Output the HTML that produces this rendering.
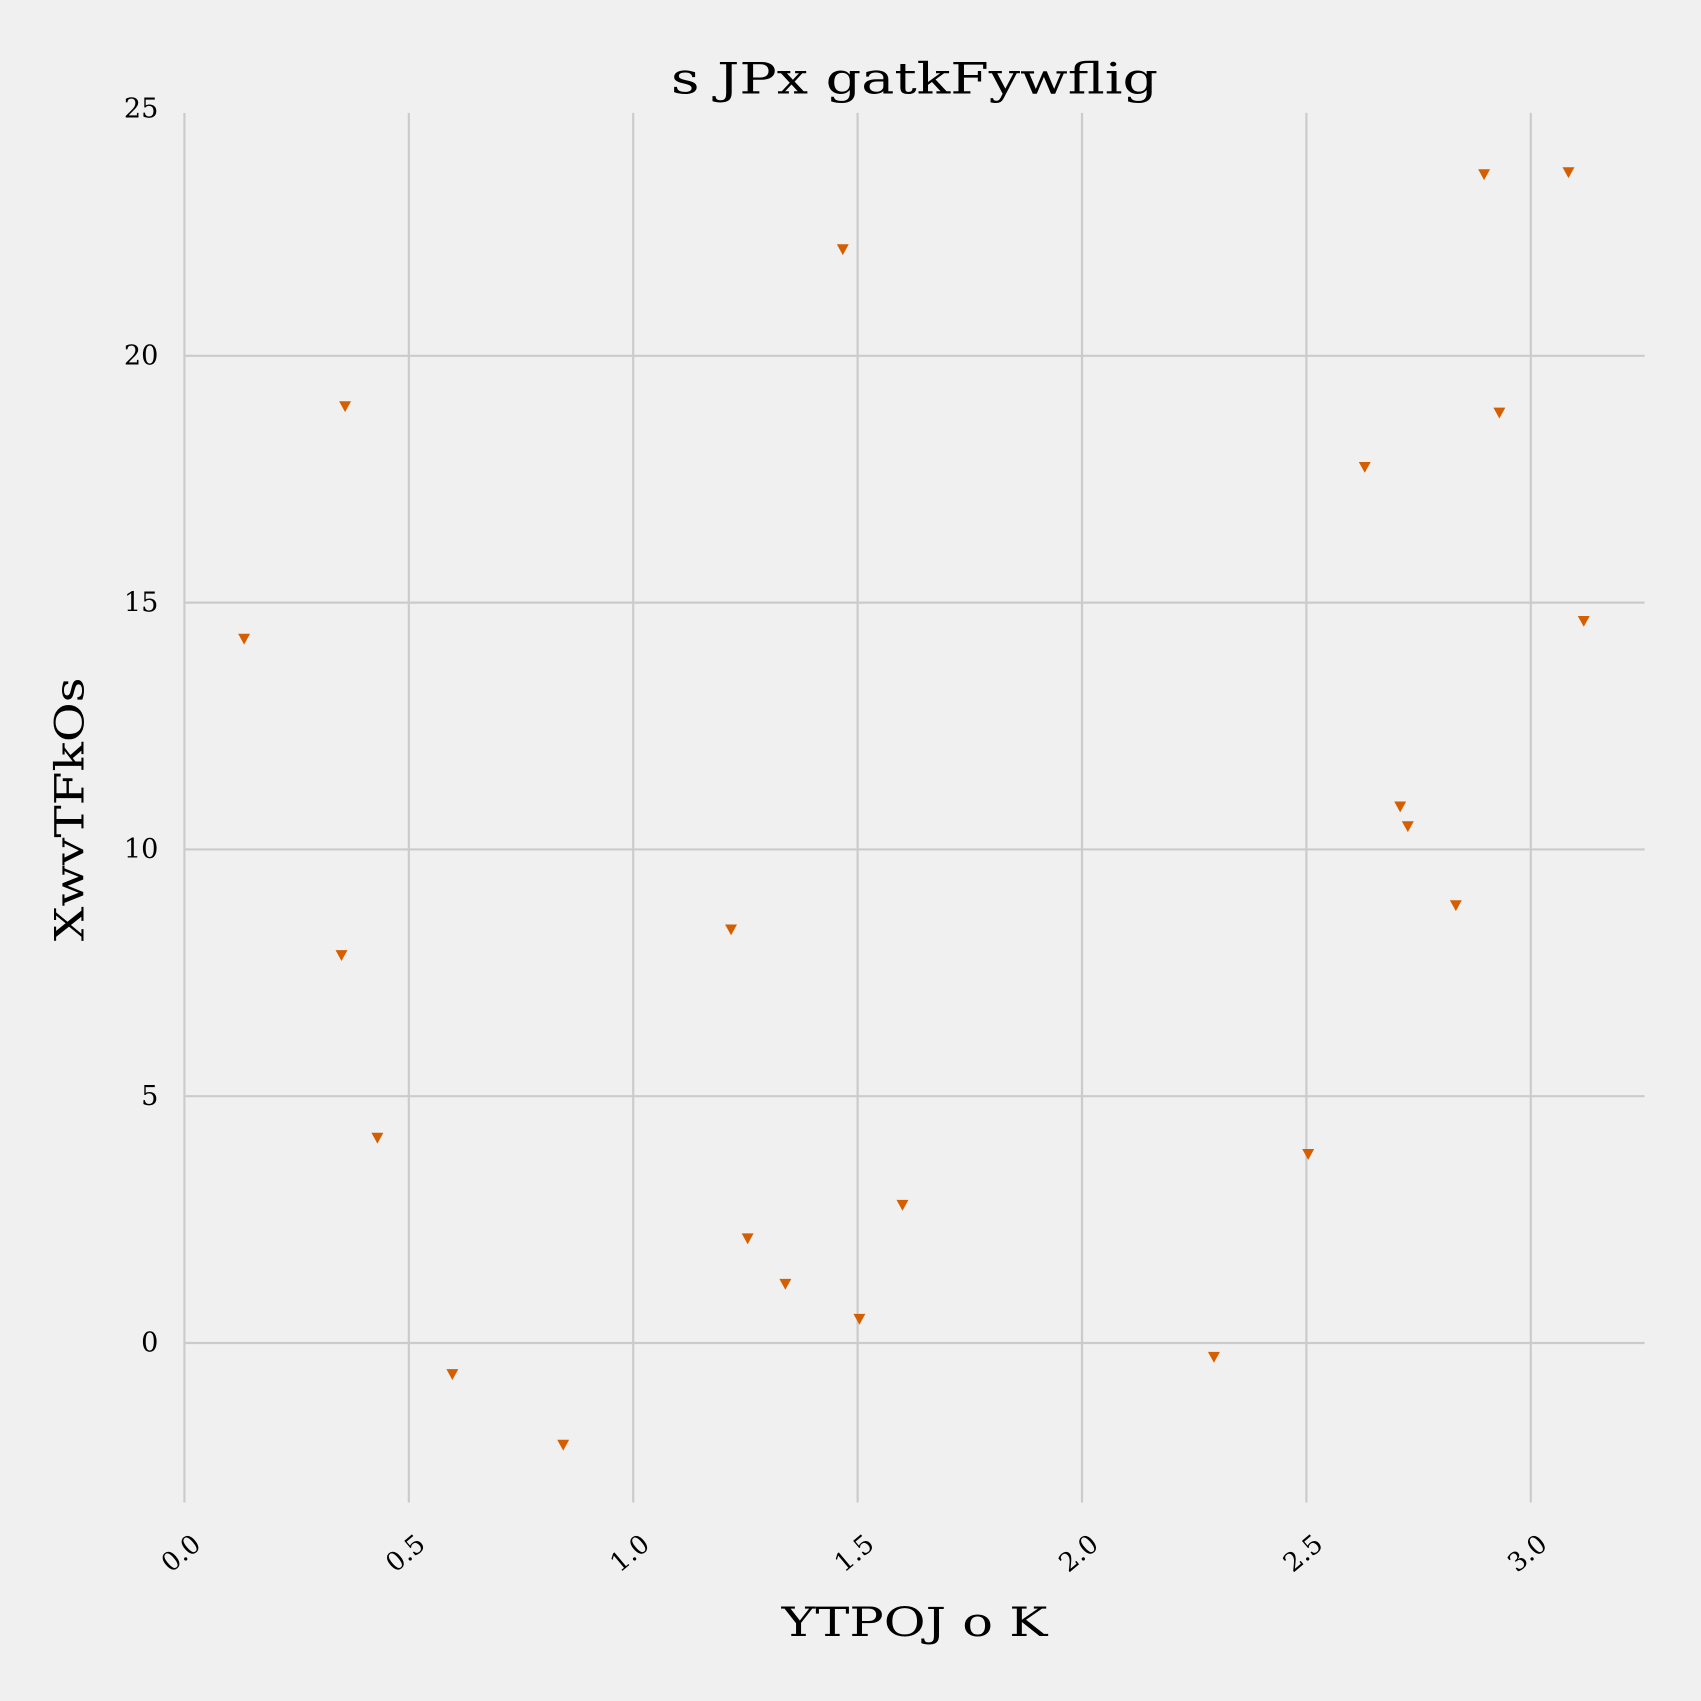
<!DOCTYPE html>
<html><head><meta charset="utf-8"><style>html,body{margin:0;padding:0;background:#f0f0f0}svg{display:block}</style></head>
<body>
<svg id="chart" width="1701" height="1701" viewBox="0 0 1568 1568" xmlns="http://www.w3.org/2000/svg" font-family="'DejaVu Serif', 'Liberation Serif', serif">
<rect width="1568" height="1568" fill="#f0f0f0"/>
<g id="grid"></g><g id="ticks"></g><g id="marks"></g>
<text x="843" y="86" font-size="40" text-anchor="middle" textLength="449" lengthAdjust="spacingAndGlyphs" fill="#000">s JPx gatkFywflig</text>
<text x="843" y="1508" font-size="37" text-anchor="middle" textLength="245" lengthAdjust="spacingAndGlyphs" fill="#000">YTPOJ o K</text>
<text x="0" y="0" font-size="37" text-anchor="middle" textLength="243" lengthAdjust="spacingAndGlyphs" fill="#000" transform="translate(77,746) rotate(-90)">XwvTFkOs</text>
</svg>
<script>
const xValues=[0.133,0.358,0.350,0.430,0.597,0.844,1.218,1.255,1.339,1.467,1.504,1.600,2.294,2.504,2.630,2.709,2.726,2.833,2.896,2.930,3.084,3.118];
const yValues=[14.26,18.97,7.85,4.15,-0.64,-2.07,8.37,2.11,1.19,22.15,0.48,2.79,-0.29,3.82,17.74,10.86,10.46,8.86,23.67,18.84,23.71,14.62];
const xTicks=[0,0.5,1.0,1.5,2.0,2.5,3.0];
const xTickLabels=["0.0","0.5","1.0","1.5","2.0","2.5","3.0"];
const yTicks=[0,5,10,15,20,25];
const yTickLabels=["0","5","10","15","20","25"];
const NS="http://www.w3.org/2000/svg";
const X0=170,XS=413.7,Y0=1238,YS=45.5,PL=170,PR=1516,PT=104,PB=1385;
const xs=v=>X0+v*XS, ys=v=>Y0-v*YS;
function mk(t,a,p){const e=document.createElementNS(NS,t);for(const k in a)e.setAttribute(k,a[k]);p.appendChild(e);return e;}
const grid=document.getElementById('grid'),ticks=document.getElementById('ticks'),marks=document.getElementById('marks');
xTicks.forEach((v,i)=>{
 const l=mk('line',{x1:xs(v),x2:xs(v),y1:PT,y2:PB,stroke:'#cbcbcb','stroke-width':2},grid);
 
 
 const t=mk('text',{x:0,y:0,'font-size':24,'text-anchor':'middle',transform:`translate(${xs(v)+2},${PB+53}) rotate(-40)`},ticks);
 t.textContent=xTickLabels[i];
 
 
});
yTicks.forEach((v,i)=>{
 if(v<25){const l=mk('line',{x1:PL,x2:PR,y1:ys(v),y2:ys(v),stroke:'#cbcbcb','stroke-width':2},grid);
 
 }
 const t=mk('text',{x:146,y:ys(v)+8,'font-size':25,'text-anchor':'end'},ticks);
 t.textContent=yTickLabels[i];
 
 
});
xValues.forEach((v,i)=>{
 const x=xs(v),y=ys(yValues[i]);
 const p=mk('path',{d:`M${x-5.5},${y-5} L${x+5.5},${y-5} L${x},${y+5} Z`,fill:'#d55e00'},marks);
 
 
});
</script>
</body></html>
